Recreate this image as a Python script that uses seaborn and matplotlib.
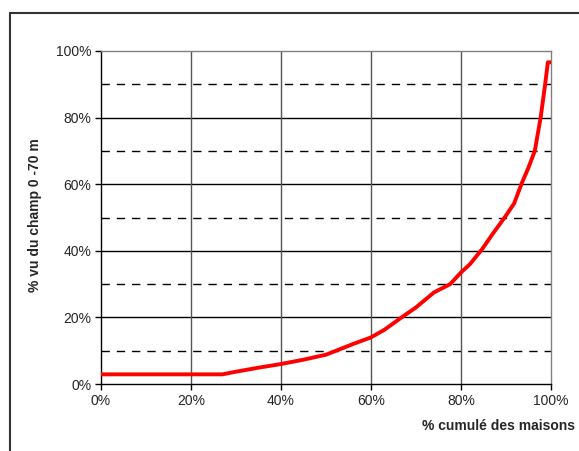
import numpy as np
import pandas as pd
import matplotlib
matplotlib.use("Agg")
import matplotlib.pyplot as plt
import seaborn as sns
from matplotlib.lines import Line2D
from matplotlib.ticker import MultipleLocator, PercentFormatter

# courbe (en %)
cumul_maisons = [0, 27, 30, 35, 40, 45, 50, 53, 56, 60, 63, 66.8, 70, 74, 77.6, 80, 82,
                 84.7, 87, 89.8, 91.8, 93.5, 95, 96.4, 97.7, 98.7, 99.3, 100]
vu_champ = [2.9, 2.9, 3.7, 4.9, 6, 7.3, 8.8, 10.4, 12, 14, 16.3, 20, 23, 27.5, 30, 33.5, 36,
            40.5, 45, 50.2, 54.2, 60.3, 65, 70, 80, 90, 96.6, 96.6]

df = pd.DataFrame({"x": cumul_maisons, "y": vu_champ})

sns.set_style("white")
plt.rcParams["font.family"] = ["Liberation Sans", "DejaVu Sans"]

fig = plt.figure(figsize=(5.79, 4.51), dpi=100)
ax = fig.add_axes([101 / 579, 1 - 384 / 451, 450 / 579, 333 / 451])

# grille
for v in [10, 30, 50, 70, 90]:
    ax.axhline(v, color="black", lw=1, ls=(0, (6, 5)), zorder=1)
for v in [20, 40, 60, 80]:
    ax.axhline(v, color="black", lw=1, zorder=1)
for v in [20, 40, 60, 80]:
    ax.axvline(v, color="#555555", lw=1, zorder=1)

sns.lineplot(data=df, x="x", y="y", color="#ff0000", lw=2.8, ax=ax, zorder=3)

ax.set_xlim(0, 100)
ax.set_ylim(0, 100)
ax.xaxis.set_major_locator(MultipleLocator(20))
ax.yaxis.set_major_locator(MultipleLocator(20))
ax.xaxis.set_major_formatter(PercentFormatter(decimals=0))
ax.yaxis.set_major_formatter(PercentFormatter(decimals=0))
ax.tick_params(axis="both", direction="out", length=4, width=1, color="black",
               labelsize=10, pad=3, bottom=True, left=True)

for side in ["top", "right"]:
    ax.spines[side].set_color("#808080")
    ax.spines[side].set_linewidth(1)
for side in ["left", "bottom"]:
    ax.spines[side].set_color("black")
    ax.spines[side].set_linewidth(1)

ax.set_xlabel("")
ax.set_ylabel("")
fig.text(575 / 579, 1 - 426 / 451, "% cumulé des maisons", ha="right", va="center",
         fontsize=10, fontweight="bold")
fig.text(35 / 579, 1 - 215 / 451, "% vu du champ 0 -70 m", ha="center", va="center",
         rotation=90, fontsize=10, fontweight="bold")

# cadre extérieur
fig.add_artist(Line2D([10 / 579, 10 / 579], [0, 1 - 13 / 451], color="#333333", lw=1.5))
fig.add_artist(Line2D([10 / 579, 1], [1 - 13 / 451, 1 - 13 / 451], color="#333333", lw=1.5))

plt.savefig("out.png", dpi=100)
plt.close()
